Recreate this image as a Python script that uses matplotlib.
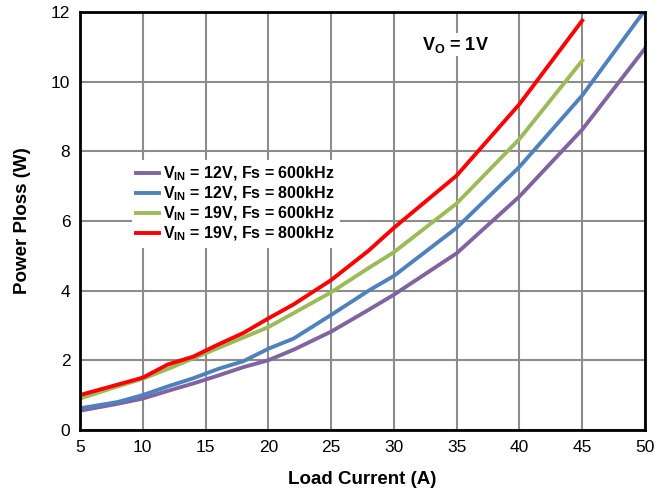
import numpy as np
import matplotlib
matplotlib.use('Agg')
import matplotlib.pyplot as plt
from matplotlib import font_manager

plt.rcParams['font.family'] = ['Liberation Sans', 'DejaVu Sans']
plt.rcParams['mathtext.fontset'] = 'custom'
plt.rcParams['mathtext.rm'] = 'Liberation Sans:bold'
plt.rcParams['mathtext.bf'] = 'Liberation Sans:bold'

names = {f.name for f in font_manager.fontManager.ttflist}
tick_family = 'Liberation Sans Narrow' if 'Liberation Sans Narrow' in names else 'Liberation Sans'

# load current (A)
x_45 = [5, 8, 10, 12, 14, 16, 18, 20, 22, 25, 28, 30, 35, 40, 45]
x_50 = [5, 8, 10, 12, 14, 16, 18, 20, 22, 25, 28, 30, 35, 40, 45, 50]

# power loss (W)
p_12v_600 = [0.55, 0.75, 0.9, 1.12, 1.33, 1.56, 1.8, 2.0, 2.3, 2.82, 3.45, 3.88, 5.07, 6.7, 8.62, 10.95]
p_12v_800 = [0.62, 0.8, 1.0, 1.25, 1.48, 1.75, 1.97, 2.33, 2.62, 3.3, 4.0, 4.42, 5.8, 7.55, 9.6, 12.05]
p_19v_600 = [0.9, 1.25, 1.47, 1.75, 2.05, 2.35, 2.65, 2.95, 3.35, 3.95, 4.65, 5.1, 6.5, 8.35, 10.6]
p_19v_800 = [1.0, 1.3, 1.5, 1.88, 2.1, 2.45, 2.78, 3.2, 3.6, 4.3, 5.15, 5.8, 7.3, 9.35, 11.75]

fig = plt.figure(figsize=(6.67, 4.93), dpi=100)
ax = fig.add_axes([0.12, 0.128, 0.847, 0.848])

lw = 2.8
ax.plot(x_50, p_12v_600, color='#8064A2', lw=lw, label=r'V$_{\mathbf{IN}}$ = 12V, Fs = 600kHz')
ax.plot(x_50, p_12v_800, color='#4F81BD', lw=lw, label=r'V$_{\mathbf{IN}}$ = 12V, Fs = 800kHz')
ax.plot(x_45, p_19v_600, color='#9BBB59', lw=lw, label=r'V$_{\mathbf{IN}}$ = 19V, Fs = 600kHz')
ax.plot(x_45, p_19v_800, color='#FF0000', lw=lw, label=r'V$_{\mathbf{IN}}$ = 19V, Fs = 800kHz')

ax.set_xlim(5, 50)
ax.set_ylim(0, 12)
ax.set_xticks(np.arange(5, 51, 5))
ax.set_yticks(np.arange(0, 13, 2))
ax.grid(True, color='#8c8c8c', lw=1.5)
ax.set_axisbelow(True)
ax.tick_params(length=0, labelsize=12.5, pad=7)
for lab in ax.get_xticklabels() + ax.get_yticklabels():
    lab.set_family(tick_family)
for s in ax.spines.values():
    s.set_linewidth(2)
    s.set_color('black')

ax.set_xlabel('Load Current (A)', fontsize=13.5, fontweight='bold', labelpad=12)
ax.set_ylabel('Power Ploss (W)', fontsize=13.5, fontweight='bold', labelpad=14)

leg = ax.legend(loc='upper left', bbox_to_anchor=(0.077, 0.665), frameon=True,
                fancybox=False, edgecolor='none', facecolor='white', framealpha=1,
                prop={'weight': 'bold', 'size': 11.5}, handlelength=1.4,
                handletextpad=0.3, labelspacing=0.1, borderpad=0.3)

ax.text(34.9, 11.05, r'V$_{\mathbf{O}}$ = 1V', fontsize=13, fontweight='bold',
        ha='center', va='center',
        bbox=dict(facecolor='white', edgecolor='none', pad=1))

fig.savefig('out.png', dpi=100)
